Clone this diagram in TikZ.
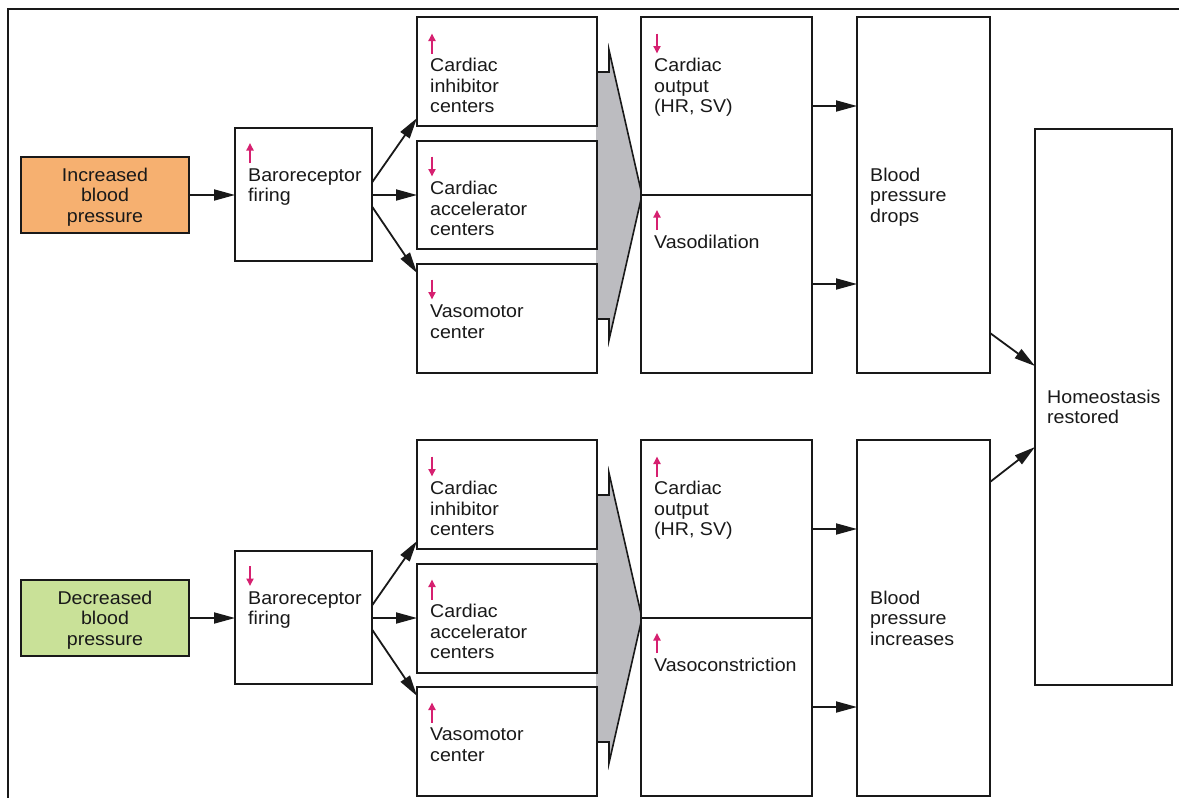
\documentclass[tikz,border=0pt]{standalone}
\usepackage{fontspec}
\setmainfont{Liberation Sans}[FakeStretch=1.06]
\usetikzlibrary{arrows.meta}
\definecolor{bporange}{RGB}{246,176,112}
\definecolor{bpgreen}{RGB}{201,225,152}
\definecolor{funnelgray}{RGB}{188,188,192}
\definecolor{mag}{RGB}{214,32,112}
\definecolor{ink}{RGB}{25,25,25}
\tikzset{
  box/.style={draw=ink, line width=1.8pt, fill=white, inner sep=0pt, outer sep=0pt},
  txt/.style={inner sep=0pt, anchor=north west, align=left, text=ink, font=\fontsize{18.5}{20.5}\selectfont},
  ctxt/.style={txt, anchor=north, align=center},
  arr/.style={draw=ink, line width=1.8pt, -{Triangle[length=21pt,width=11pt]}},
  marr/.style={draw=mag, line width=1.8pt, -{Triangle[length=7.5pt,width=7pt]}},
  frameline/.style={draw=ink, line width=2.6pt}
}
% box from (x1,y1) to (x2,y2), image coordinates
\newcommand\rbox[6][]{\node[box,#1,minimum width={(#4-#2)*1pt},minimum height={(#5-#3)*1pt}] (#6) at ({(#2+#4)/2},{(#3+#5)/2}) {};}
% text with first baseline at y
\newcommand\tnode[5][txt]{\node[#1] (#4) at (#2,{#3-14.35}) {\strut #5};}
\newcommand\uparr[2]{\draw[marr] (#1,{#2-18}) -- (#1,{#2-38});}
\newcommand\dnarr[2]{\draw[marr] (#1,{#2-38}) -- (#1,{#2-18});}
\newcommand\funnel[1]{%
  \fill[funnelgray] (596,{72+#1}) -- (609,{72+#1}) -- (609,{50+#1}) -- (642,{195+#1}) -- (609,{340+#1}) -- (609,{319+#1}) -- (596,{319+#1}) -- cycle;
  \draw[draw=ink, line width=1.6pt, line join=miter] (596,{72+#1}) -- (609,{72+#1}) -- (609,{50+#1}) -- (642,{195+#1}) -- (609,{340+#1}) -- (609,{319+#1}) -- (596,{319+#1});}
\begin{document}
\begin{tikzpicture}[x=1pt,y=-1pt]
\useasboundingbox (0,0) rectangle (1179,798);
\fill[white] (0,0) rectangle (1179,798);
\draw[frameline] (8,798) -- (8,9) -- (1179,9);

% funnels
\funnel{0}
\funnel{423}

% ---------- top half ----------
\rbox[fill=bporange]{21}{157}{189}{233}{in1}
\rbox{235}{128}{372}{261}{baro1}
\rbox{417}{17}{597}{126}{inh1}
\rbox{417}{141}{597}{249}{acc1}
\rbox{417}{264}{597}{373}{vaso1}
\rbox{641}{17}{812}{195}{co1}
\rbox{641}{195}{812}{373}{vd1}
\rbox{857}{17}{990}{373}{bpd}
\rbox{1035}{129}{1172}{685}{home}

\tnode[ctxt]{105}{181}{tin1}{Increased\\blood\\pressure}
\tnode{248}{181}{tbaro1}{Baroreceptor\\firing}
\uparr{250}{181}
\tnode{430}{71.5}{tinh1}{Cardiac\\inhibitor\\centers}
\uparr{432}{71.5}
\tnode{430}{194.5}{tacc1}{Cardiac\\accelerator\\centers}
\dnarr{432}{194.5}
\tnode{430}{317.5}{tvaso1}{Vasomotor\\center}
\dnarr{432}{317.5}
\tnode{654}{71.5}{tco1}{Cardiac\\output\\(HR, SV)}
\dnarr{657}{71.5}
\tnode{654}{248}{tvd1}{Vasodilation}
\uparr{657}{248}
\tnode{870}{181}{tbpd}{Blood\\pressure\\drops}
\tnode{1047}{403}{thome}{Homeostasis\\restored}

\draw[arr] (in1.east) -- (in1.east -| baro1.west);
\draw[arr] ([yshift=12pt]baro1.east) -- ([yshift=8pt]inh1.south west);
\draw[arr] (acc1.west -| baro1.east) -- (acc1.west);
\draw[arr] ([yshift=-12pt]baro1.east) -- ([yshift=-9pt]vaso1.north west);
\draw[arr] (co1.east) -- (co1.east -| bpd.west);
\draw[arr] (vd1.east) -- (vd1.east -| bpd.west);
\draw[arr] ([yshift=40pt]bpd.south east) -- ([yshift=41pt]home.west);

% ---------- bottom half ----------
\rbox[fill=bpgreen]{21}{580}{189}{656}{in2}
\rbox{235}{551}{372}{684}{baro2}
\rbox{417}{440}{597}{549}{inh2}
\rbox{417}{564}{597}{673}{acc2}
\rbox{417}{687}{597}{796}{vaso2}
\rbox{641}{440}{812}{618}{co2}
\rbox{641}{618}{812}{796}{vc2}
\rbox{857}{440}{990}{796}{bpi}

\tnode[ctxt]{105}{604}{tin2}{Decreased\\blood\\pressure}
\tnode{248}{604}{tbaro2}{Baroreceptor\\firing}
\dnarr{250}{604}
\tnode{430}{494.5}{tinh2}{Cardiac\\inhibitor\\centers}
\dnarr{432}{494.5}
\tnode{430}{617.5}{tacc2}{Cardiac\\accelerator\\centers}
\uparr{432}{617.5}
\tnode{430}{740.5}{tvaso2}{Vasomotor\\center}
\uparr{432}{740.5}
\tnode{654}{494.5}{tco2}{Cardiac\\output\\(HR, SV)}
\uparr{657}{494.5}
\tnode{654}{671}{tvc2}{Vasoconstriction}
\uparr{657}{671}
\tnode{870}{604}{tbpi}{Blood\\pressure\\increases}

\draw[arr] (in2.east) -- (in2.east -| baro2.west);
\draw[arr] ([yshift=12pt]baro2.east) -- ([yshift=8pt]inh2.south west);
\draw[arr] ([yshift=0.5pt]acc2.west -| baro2.east) -- ([yshift=0.5pt]acc2.west);
\draw[arr] ([yshift=-12pt]baro2.east) -- ([yshift=-9pt]vaso2.north west);
\draw[arr] (co2.east) -- (co2.east -| bpi.west);
\draw[arr] (vc2.east) -- (vc2.east -| bpi.west);
\draw[arr] ([yshift=-42pt]bpi.north east) -- ([yshift=-40pt]home.west);
\end{tikzpicture}
\end{document}
